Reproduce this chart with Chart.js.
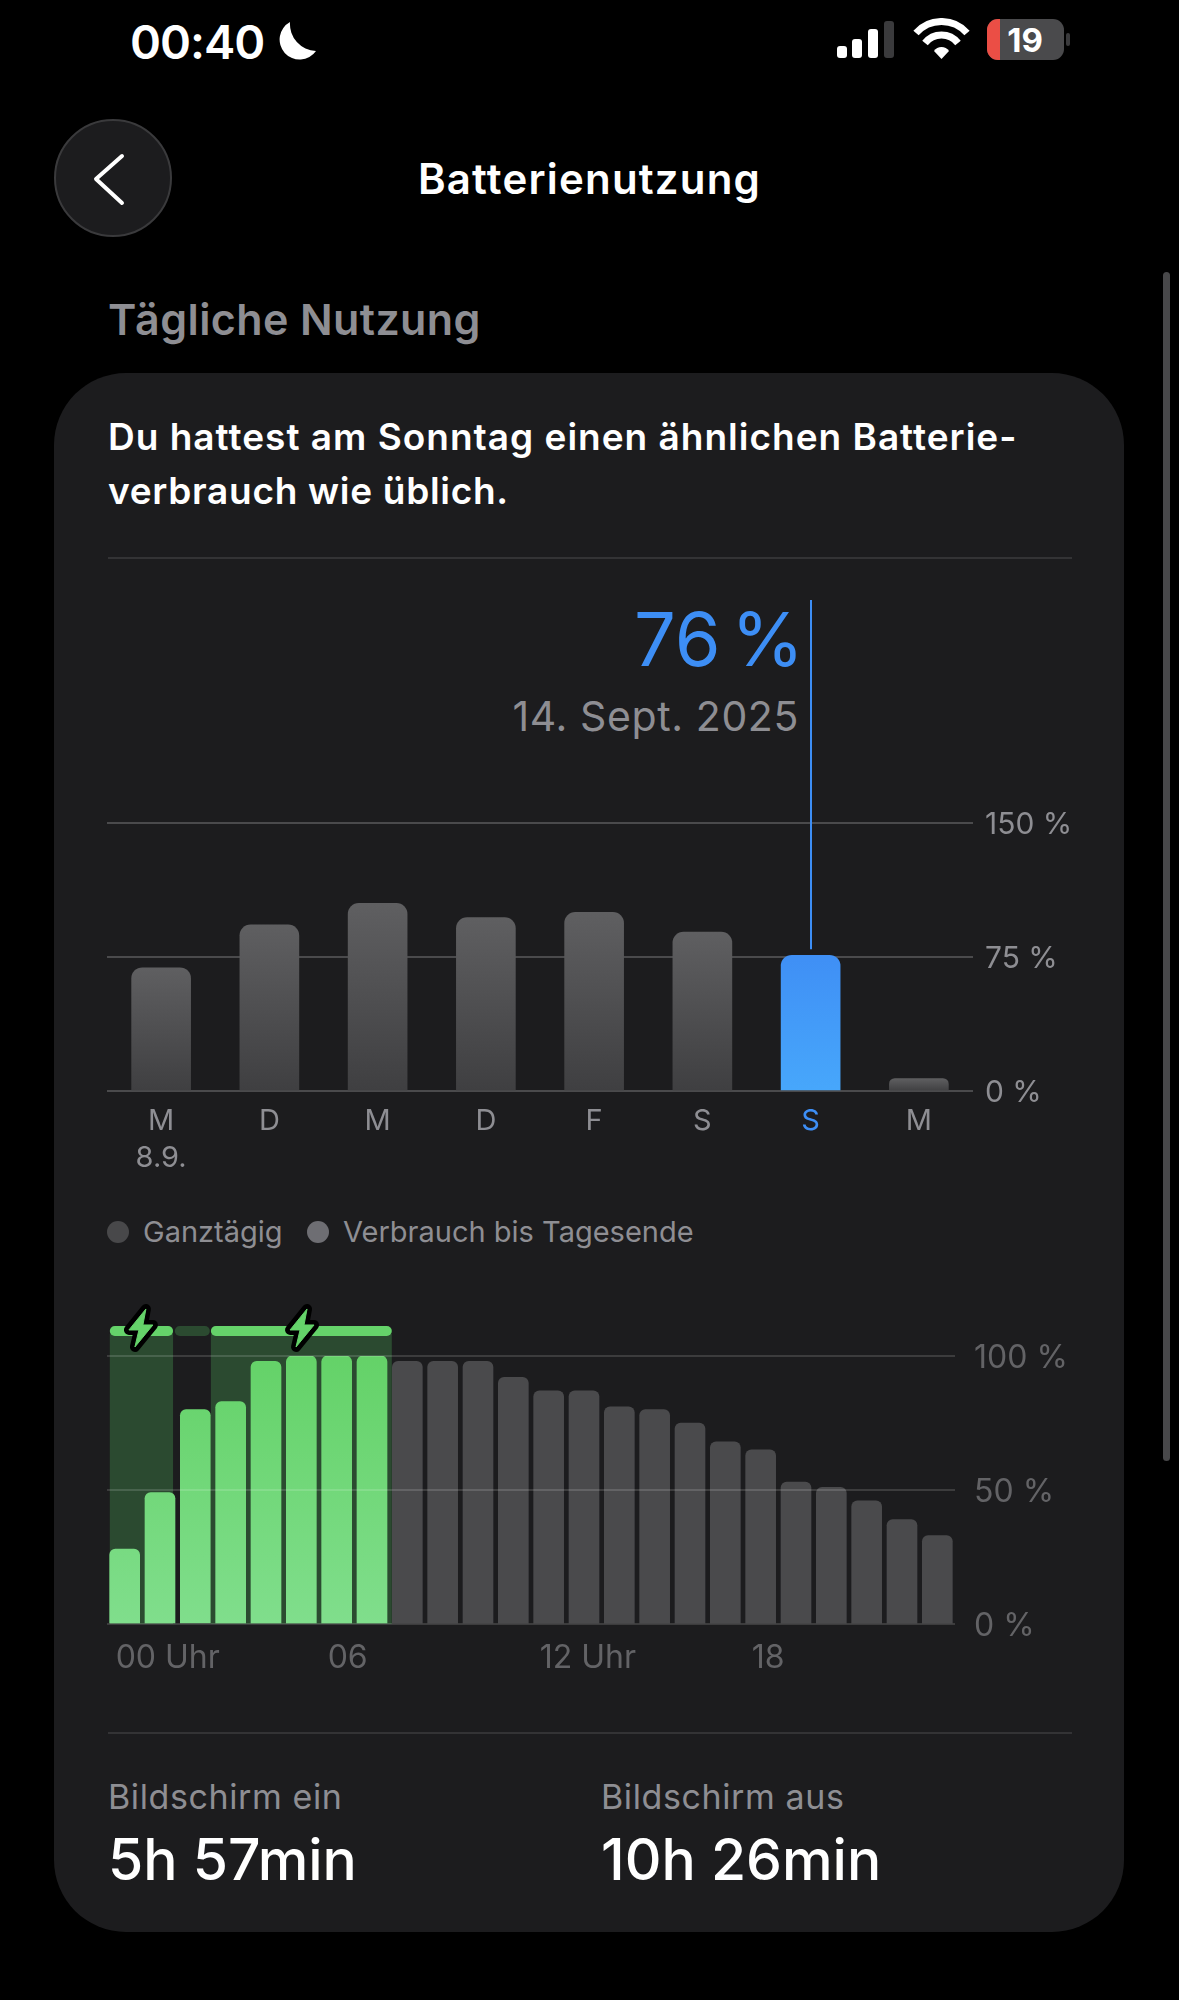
<!DOCTYPE html>
<html lang="de">
<head>
<meta charset="utf-8">
<title>Batterienutzung</title>
<script src="https://cdn.jsdelivr.net/npm/chart.js@4"></script>
<style>
  * { margin: 0; padding: 0; box-sizing: border-box; }
  html, body { width: 1179px; height: 2000px; background: #000; overflow: hidden; }
  body { position: relative; font-family: Inter, "Noto Sans", sans-serif; color: #fff; }
  .abs { position: absolute; white-space: nowrap; line-height: 1; }
  .card { position: absolute; left: 54px; top: 373px; width: 1070px; height: 1559px; background: #1c1c1e; border-radius: 72px; }
  .rule { position: absolute; left: 108px; width: 964px; height: 2px; background: #333335; }
  .gray { color: #8e8e93; }
  canvas { position: absolute; }
  .dot { position: absolute; width: 22px; height: 22px; border-radius: 50%; }
</style>
</head>
<body>

<!-- status bar -->
<div class="abs" style="left:130px;top:18px;font-size:47px;font-weight:600;letter-spacing:-1px">00:40</div>
<svg class="abs" style="left:278px;top:21px" width="40" height="40" viewBox="0 0 40 40">
  <path d="M12 1 A20 20 0 1 0 38 30 A27 27 0 0 1 12 1 Z" fill="#fff"/>
</svg>
<svg class="abs" style="left:835px;top:18px" width="240" height="44" viewBox="0 0 240 44">
  <rect x="2" y="28" width="10" height="12" rx="3" fill="#fff"/>
  <rect x="17" y="21" width="10" height="19" rx="3" fill="#fff"/>
  <rect x="33" y="11" width="10" height="29" rx="3" fill="#fff"/>
  <rect x="49" y="3" width="10" height="37" rx="3" fill="#3a3a3c"/>
  <path d="M81 15 A34 34 0 0 1 132 15" fill="none" stroke="#fff" stroke-width="7"/>
  <path d="M90 25 A21 21 0 0 1 123 25" fill="none" stroke="#fff" stroke-width="7"/>
  <path d="M99 33 A9 9 0 0 1 114 33 L106.5 41 Z" fill="#fff"/>
  <rect x="152" y="1" width="77" height="41" rx="11" fill="#4a4a4c"/>
  <path d="M163 1 H165 V42 H163 A11 11 0 0 1 152 31 V12 A11 11 0 0 1 163 1 Z" fill="#eb4e45"/>
  <rect x="231" y="15" width="4" height="13" rx="2" fill="#3a3a3c"/>
</svg>
<div class="abs" style="left:1002px;top:24px;width:46px;text-align:center;font-size:33px;font-weight:700">19</div>

<!-- header -->
<svg class="abs" style="left:54px;top:119px" width="118" height="118" viewBox="0 0 118 118">
  <circle cx="59" cy="59" r="58" fill="#1c1c1e" stroke="#3a3a3c" stroke-width="2"/>
  <path d="M68 37 L42 60 L68 84" fill="none" stroke="#fff" stroke-width="4" stroke-linecap="round" stroke-linejoin="round"/>
</svg>
<div class="abs" style="left:0;width:1179px;top:158px;text-align:center;font-size:42px;font-weight:600;letter-spacing:1.2px">Batterienutzung</div>
<div class="abs" style="left:1163px;top:272px;width:7px;height:1189px;border-radius:4px;background:#48484a"></div>
<div class="abs gray" style="left:108px;top:298px;font-size:43px;font-weight:600;letter-spacing:.4px">Tägliche Nutzung</div>

<div class="card"></div>
<div class="abs" style="left:108px;top:418px;font-size:37px;font-weight:600;letter-spacing:1px">Du hattest am Sonntag einen ähnlichen Batterie-</div>
<div class="abs" style="left:108px;top:472px;font-size:37px;font-weight:600;letter-spacing:.7px">verbrauch wie üblich.</div>
<div class="rule" style="top:557px"></div>

<!-- selected day -->
<div class="abs" style="right:375px;top:602px;font-size:74px;color:#3d8ef5;word-spacing:-10px">76 %</div>
<div class="abs gray" style="right:380px;top:696px;font-size:41px;letter-spacing:.6px">14. Sept. 2025</div>

<canvas id="week-chart" style="left:107px;top:590px" width="972" height="590"></canvas>

<!-- legend -->
<div class="dot" style="left:107px;top:1221px;background:#48484a"></div>
<div class="abs gray" style="left:143px;top:1217px;font-size:29px">Ganztägig</div>
<div class="dot" style="left:307px;top:1221px;background:#6e6e73"></div>
<div class="abs gray" style="left:343px;top:1217px;font-size:29px">Verbrauch bis Tagesende</div>

<canvas id="day-chart" style="left:107px;top:1300px" width="972" height="390"></canvas>

<div class="rule" style="top:1732px"></div>

<div class="abs gray" style="left:108px;top:1780px;font-size:34px;letter-spacing:.6px">Bildschirm ein</div>
<div class="abs" style="left:108px;top:1831px;font-size:57px;font-weight:500">5h 57min</div>
<div class="abs gray" style="left:601px;top:1780px;font-size:34px;letter-spacing:.6px">Bildschirm aus</div>
<div class="abs" style="left:601px;top:1831px;font-size:57px;font-weight:500">10h 26min</div>

<script>
const weekLabels = [['M', '8.9.'], 'D', 'M', 'D', 'F', 'S', 'S', 'M'];
const weekValues = [69, 93, 105, 97, 100, 89, 76, 7];
const weekTicks = [0, 75, 150];
const selectedDay = 6;

const hourLabels = ['00 Uhr', '', '', '', '', '', '06', '', '', '', '', '', '12 Uhr', '', '', '', '', '', '18', '', '', '', '', ''];
const hourValues = [28, 49, 80, 83, 98, 100, 100, 100, 98, 98, 98, 92, 87, 87, 81, 80, 75, 68, 65, 53, 51, 46, 39, 33];
const chargedHours = 8;
const dayTicks = [0, 50, 100];

// charging periods in hours from midnight: [start, end, active]
const chargeSpans = [[0.08, 1.87, true], [1.92, 2.91, false], [2.94, 8.06, true]];
const chargeBolts = [0.96, 5.52];

const FONT = 'Inter, "Noto Sans", sans-serif';
const GRAY = '#8e8e93';
const DIM = '#636366';
const BLUE = '#3d8ef5';
const GRID = '#4a4a4c';
const GREEN = '#65d36a';
const DARK_GREEN = '#2b4a30';

Chart.defaults.devicePixelRatio = 1;
Chart.defaults.animation = false;

function barGradient(ctx, top, bottom) {
    const { chart, dataIndex, dataset } = ctx;
    if (!chart.chartArea || dataIndex === undefined) {
        return bottom;
    }
    const y = chart.scales.y;
    const gradient = chart.ctx.createLinearGradient(0, y.getPixelForValue(dataset.data[dataIndex]), 0, y.bottom);
    gradient.addColorStop(0, top);
    gradient.addColorStop(1, bottom);
    return gradient;
}

function areaGradient(chart, top, bottom) {
    const area = chart.chartArea;
    if (!area) {
        return bottom;
    }
    const gradient = chart.ctx.createLinearGradient(0, area.top, 0, area.bottom);
    gradient.addColorStop(0, top);
    gradient.addColorStop(1, bottom);
    return gradient;
}

const selectionLine = {
    id: 'selectionLine',
    afterDatasetsDraw(chart) {
        const { ctx, scales } = chart;
        const x = Math.round(scales.x.getPixelForValue(selectedDay));
        ctx.save();
        ctx.strokeStyle = BLUE;
        ctx.lineWidth = 2;
        ctx.beginPath();
        ctx.moveTo(x, 10);
        ctx.lineTo(x, scales.y.getPixelForValue(weekValues[selectedDay]) - 6);
        ctx.stroke();
        ctx.restore();
    },
};

const chargeMarks = {
    id: 'chargeMarks',
    beforeDatasetsDraw(chart) {
        const { ctx, scales, chartArea } = chart;
        const hourX = hour => scales.x.getPixelForValue(hour - 0.5);
        const stripTop = scales.y.getPixelForValue(111.2);
        const stripBottom = scales.y.getPixelForValue(107.5);

        ctx.save();
        chargeSpans.forEach(([start, end, active]) => {
            const left = hourX(start);
            const width = hourX(end) - left;
            ctx.fillStyle = DARK_GREEN;
            if (active) {
                ctx.fillRect(left, stripBottom - 2, width, chartArea.bottom - stripBottom + 2);
            }
            ctx.fillStyle = active ? GREEN : DARK_GREEN;
            ctx.beginPath();
            ctx.roundRect(left, stripTop, width, stripBottom - stripTop, 5);
            ctx.fill();
        });
        ctx.restore();
    },
    afterDraw(chart) {
        const { ctx, scales } = chart;
        const bolt = new Path2D('M23 6 L6 27 H16 L12 44 L30 22 H20 Z');
        chargeBolts.forEach(hour => {
            ctx.save();
            ctx.translate(scales.x.getPixelForValue(hour - 0.5) - 18, scales.y.getPixelForValue(111.2) - 23);
            ctx.lineJoin = 'round';
            ctx.lineWidth = 10;
            ctx.strokeStyle = '#000';
            ctx.stroke(bolt);
            ctx.lineWidth = 1;
            ctx.strokeStyle = GREEN;
            ctx.stroke(bolt);
            ctx.fillStyle = GREEN;
            ctx.fill(bolt);
            ctx.restore();
        });
    },
};

new Chart(document.getElementById('week-chart'), {
    type: 'bar',
    data: {
        labels: weekLabels,
        datasets: [{
            data: weekValues,
            barThickness: 59,
            borderRadius: 11,
            backgroundColor: ctx => (ctx.dataIndex === selectedDay
                ? barGradient(ctx, '#3f8ff5', '#47a7fb')
                : barGradient(ctx, '#5f5f61', '#3f3f41')),
        }],
    },
    options: {
        responsive: false,
        layout: { padding: { top: 233 } },
        plugins: { legend: { display: false }, tooltip: { enabled: false } },
        scales: {
            x: {
                grid: { display: false },
                border: { display: false },
                afterFit: scale => { scale.height = 89; },
                ticks: {
                    autoSkip: false,
                    maxRotation: 0,
                    padding: 4,
                    font: { family: FONT, size: 29, lineHeight: 1.28 },
                    color: ctx => (ctx.index === selectedDay ? BLUE : GRAY),
                },
            },
            y: {
                position: 'right',
                min: 0,
                max: 150,
                afterBuildTicks: scale => { scale.ticks = weekTicks.map(value => ({ value })); },
                afterFit: scale => { scale.width = 106; },
                border: { display: false },
                grid: { color: GRID, lineWidth: 2, drawTicks: false },
                ticks: {
                    padding: 12,
                    labelOffset: 2,
                    font: { family: FONT, size: 30 },
                    color: GRAY,
                    callback: value => `${value} %`,
                },
            },
        },
    },
    plugins: [selectionLine],
});

new Chart(document.getElementById('day-chart'), {
    type: 'bar',
    data: {
        labels: hourLabels,
        datasets: [{
            data: hourValues,
            barThickness: 30,
            borderRadius: 6,
            backgroundColor: ctx => (ctx.dataIndex < chargedHours
                ? areaGradient(ctx.chart, '#64d268', '#80de8c')
                : '#4a4a4c'),
        }],
    },
    options: {
        responsive: false,
        layout: { padding: { top: 56 } },
        plugins: { legend: { display: false }, tooltip: { enabled: false } },
        scales: {
            x: {
                grid: { display: false },
                border: { display: false },
                afterFit: scale => { scale.height = 66; },
                ticks: {
                    autoSkip: false,
                    maxRotation: 0,
                    align: 'start',
                    labelOffset: -9,
                    padding: 7,
                    font: { family: FONT, size: 32 },
                    color: DIM,
                },
            },
            y: {
                position: 'right',
                min: 0,
                max: 100,
                afterBuildTicks: scale => { scale.ticks = dayTicks.map(value => ({ value })); },
                afterFit: scale => { scale.width = 124; },
                border: { display: false },
                grid: { color: 'rgba(255,255,255,0.14)', lineWidth: 2, drawTicks: false, z: 1 },
                ticks: {
                    padding: 19,
                    labelOffset: 2,
                    font: { family: FONT, size: 32 },
                    color: DIM,
                    callback: value => `${value} %`,
                },
            },
        },
    },
    plugins: [chargeMarks],
});
</script>
</body>
</html>
